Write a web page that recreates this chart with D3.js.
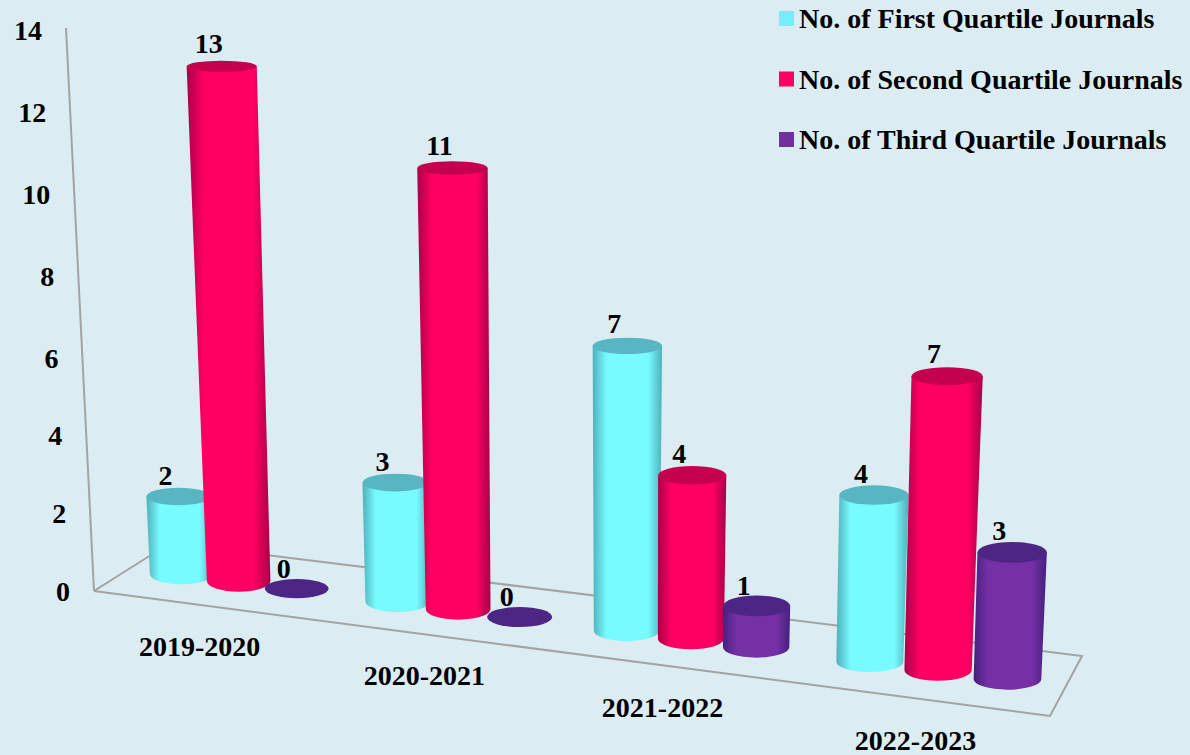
<!DOCTYPE html>
<html><head><meta charset="utf-8">
<script src="https://cdn.jsdelivr.net/npm/d3@7"></script>
<style>html,body{margin:0;padding:0;background:#dbedf3}svg{display:block}
text{font-family:"Liberation Serif","Times New Roman",serif;font-weight:bold;fill:#000}</style>
</head><body><svg id="c" width="1190" height="755"></svg>
<script>
const categories = ["2019-2020","2020-2021","2021-2022","2022-2023"];
const seriesNames = ["No. of First Quartile Journals","No. of Second Quartile Journals","No. of Third Quartile Journals"];
const firstQuartile = [2,3,7,4];
const secondQuartile = [13,11,4,7];
const thirdQuartile = [0,0,1,3];
const valueTicks = [0,2,4,6,8,10,12,14];
const seriesValues = [firstQuartile, secondQuartile, thirdQuartile];
const seriesColors = [
  {edge:"#4fb0ba",mid:"#78fbff",top:"#58b6c2",key:"#6ff0fb"},
  {edge:"#a80048",mid:"#ff0062",top:"#c4004e",key:"#ff0060"},
  {edge:"#45207c",mid:"#7530a6",top:"#4d2585",key:"#7030a0"}
];

const svg = d3.select("#c");
const defs = svg.append("defs");
seriesColors.forEach((c,i)=>{
  const g = defs.append("linearGradient").attr("id","g"+i).attr("x1",0).attr("x2",1).attr("y1",0).attr("y2",0);
  [[0,c.edge],[.2,c.mid],[.8,c.mid],[1,c.edge]].forEach(s=>g.append("stop").attr("offset",s[0]).attr("stop-color",s[1]));
});

// floor: perspective frame
const F0=[94,591],F1=[1050,716],B0=[170,543],B1=[1082,656];
const persp = t => (1-.112)*t/(1-.112*t);
const lerp=(a,b,f)=>a+(b-a)*f;
function floor(t,w){const p=persp(t);
  const fx=lerp(F0[0],F1[0],p),fy=lerp(F0[1],F1[1],p),bx=lerp(B0[0],B1[0],p),by=lerp(B0[1],B1[1],p);
  return [lerp(fx,bx,w),lerp(fy,by,w)];}

const catScale=d3.scaleBand().domain(categories).range([0,1]);
const bw=catScale.bandwidth();
const serScale=d3.scalePoint().domain(seriesNames).range([bw*.23,bw*.77]);
const heightScale=d3.scaleLinear().domain([0,6,11,14]).range([0,6,11.06,14.3]);
const axisY=d3.scaleLinear().domain([0,6,14]).range([591,358,30]);
const axisX=y=>94-(591-y)*.0497;
const ellipseRy=(x,y)=>5+.0075*y+.0015*(x-200);

const frame=svg.append("g").attr("fill","none").attr("stroke","#a3a3a3").attr("stroke-width",2);
frame.append("path").attr("d",d3.line()([F0,F1,B1,B0,F0]));
frame.append("path").attr("d",d3.line()([F0,[axisX(28),28]]));

// y labels
svg.append("g").selectAll("text").data(valueTicks).join("text")
  .attr("x",d=>axisX(axisY(d))-24).attr("y",d=>axisY(d)+9.5)
  .attr("text-anchor","end").attr("font-size",28).text(d=>d);

// bars
const w=.5;
const bars=[];
categories.forEach((cat,ci)=>seriesNames.forEach((s,si)=>{
  const t=catScale(cat)+serScale(s), v=seriesValues[si][ci];
  const base=floor(t,w), xb=base[0]+1.5, yb=base[1]+.8, p=persp(t);
  const h=heightScale(v)*(38.5+4*p);
  const xt=xb+(xb-600)*9.1e-5*h, yt=yb-h;
  const rb=31.5+2.5*p, rt=rb*(1+.0002*h);
  const ryb=10.5, ryt=ellipseRy(xt,yt);
  bars.push({si,v,xb,yb,xt,yt,rb,rt,ryb,ryt});
}));
const bg=svg.append("g");
bars.forEach(b=>{
  if(b.v>0){
    bg.append("path")
      .attr("d",`M${b.xb-b.rb},${b.yb}A${b.rb},${b.ryb} 0 0 0 ${b.xb+b.rb},${b.yb}L${b.xt+b.rt},${b.yt}L${b.xt-b.rt},${b.yt}Z`)
      .attr("fill",`url(#g${b.si})`);
  }
  bg.append("ellipse").attr("cx",b.xt).attr("cy",b.yt).attr("rx",b.rt).attr("ry",b.ryt)
    .attr("fill",seriesColors[b.si].top);
});
// value labels
svg.append("g").selectAll("text").data(bars).join("text")
  .attr("x",d=>d.xt-13).attr("y",d=>d.yt-d.ryt-(1+(600-d.yt)*.013))
  .attr("text-anchor","middle").attr("font-size",28).text(d=>d.v);

// category labels
svg.append("g").selectAll("text").data(categories).join("text")
  .attr("x",d=>floor(catScale(d)+bw/2,0)[0]-2).attr("y",d=>floor(catScale(d)+bw/2,0)[1]+51)
  .attr("text-anchor","middle").attr("font-size",28).text(d=>d);

// legend
const legendY=d3.scalePoint().domain(seriesNames).range([19,140]);
const lg=svg.append("g");
lg.selectAll("rect").data(seriesNames).join("rect")
  .attr("x",779).attr("y",d=>legendY(d)-8).attr("width",15).attr("height",15)
  .attr("fill",(d,i)=>seriesColors[i].key);
lg.selectAll("text").data(seriesNames).join("text")
  .attr("x",799).attr("y",d=>legendY(d)+9).attr("font-size",28).text(d=>d);
</script></body></html>
